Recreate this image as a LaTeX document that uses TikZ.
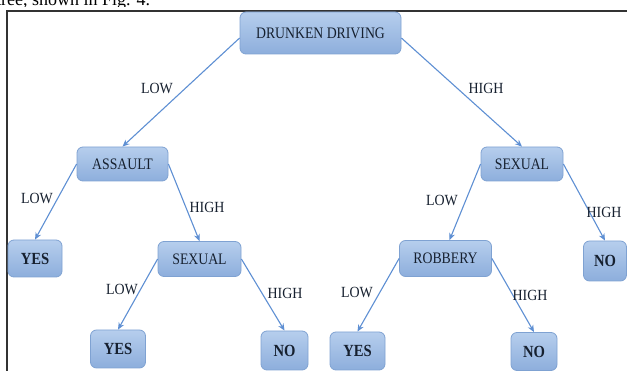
\documentclass[tikz,border=0pt]{standalone}
\usepackage{fontspec}
\setmainfont{Liberation Serif}
\newfontfamily\nf[FakeStretch=0.86]{Liberation Serif}
\newfontfamily\lf[FakeStretch=0.9]{Liberation Serif}
\usetikzlibrary{arrows.meta,positioning}
\definecolor{boxtop}{HTML}{B6CEED}
\definecolor{boxbot}{HTML}{8DAEDC}
\definecolor{boxline}{HTML}{7FA2D2}
\definecolor{arr}{HTML}{5E8FD3}
\definecolor{txt}{HTML}{16202F}
\tikzset{
  box/.style={draw=boxline, line width=0.8pt, rounded corners=6pt,
    top color=boxtop, bottom color=boxbot, text=txt, inner sep=0pt,
    font=\nf\fontsize{16}{18}\selectfont},
  leaf/.style={box, font=\nf\fontsize{17}{19}\selectfont\bfseries},
  conn/.style={draw=arr, line width=1.1pt, -{Stealth[length=7pt,width=6pt]}},
  lbl/.style={text=txt, font=\lf\fontsize{15.5}{17}\selectfont, inner sep=0pt},
  frame/.style={draw=black!80, line width=1.8pt}
}
\begin{document}
\begin{tikzpicture}[x=1pt,y=-1pt]
\useasboundingbox (0,0) rectangle (627,371);
\begin{scope}
\clip (0,0) rectangle (627,6.5);
\node[anchor=base west, inner sep=0pt, text=black, font=\fontsize{18}{20}\selectfont] (cap) at (-4,6) {tree, shown in Fig. 4.};
\end{scope}
\begin{scope}
\clip (0,0) rectangle (627,371);
\draw[frame] (7,380) -- (7,11) -- (640,11);
\end{scope}
\node[box, minimum width=161pt, minimum height=42pt] (dd) at (320.5,33) {DRUNKEN DRIVING};
\node[box, minimum width=91pt, minimum height=34pt] (as) at (122.5,164) {ASSAULT};
\node[leaf, minimum width=54pt, minimum height=37pt] (y1) at (35,258.5) {YES};
\node[box, minimum width=83pt, minimum height=35pt] (s1) at (199.5,259) {SEXUAL};
\node[leaf, minimum width=55pt, minimum height=38pt] (y2) at (118,349) {YES};
\node[leaf, minimum width=47pt, minimum height=39pt] (n1) at (284.5,350.5) {NO};
\node[box, minimum width=82pt, minimum height=34pt] (sr) at (522,164) {SEXUAL};
\node[box, minimum width=92pt, minimum height=36pt] (rb) at (445.5,258.5) {ROBBERY};
\node[leaf, minimum width=43pt, minimum height=40pt] (nr) at (605,261) {NO};
\node[leaf, minimum width=55pt, minimum height=38pt] (y3) at (357.5,351) {YES};
\node[leaf, minimum width=46pt, minimum height=38pt] (n3) at (534,351.5) {NO};
\draw[conn] ([yshift=-5pt]dd.west) -- (as.north);
\draw[conn] ([yshift=-5pt]dd.east) -- (sr.north);
\draw[conn] (as.west) -- (y1.north);
\draw[conn] (as.east) -- (s1.north);
\draw[conn] (s1.west) -- (y2.north);
\draw[conn] (s1.east) -- (n1.north);
\draw[conn] (sr.west) -- ([xshift=4pt]rb.north);
\draw[conn] (sr.east) -- (nr.north);
\draw[conn] (rb.west) -- (y3.north);
\draw[conn] (rb.east) -- (n3.north);
\node[lbl] (l1) at (157,88) {LOW};
\node[lbl] (h1) at (486,88) {HIGH};
\node[lbl] (l2) at (37,198) {LOW};
\node[lbl] (h2) at (207,207) {HIGH};
\node[lbl] (l3) at (122,289) {LOW};
\node[lbl] (h3) at (285,293) {HIGH};
\node[lbl] (l4) at (442,200) {LOW};
\node[lbl] (h4) at (604,212) {HIGH};
\node[lbl] (l5) at (357,292) {LOW};
\node[lbl] (h5) at (530,295) {HIGH};
\end{tikzpicture}
\end{document}
